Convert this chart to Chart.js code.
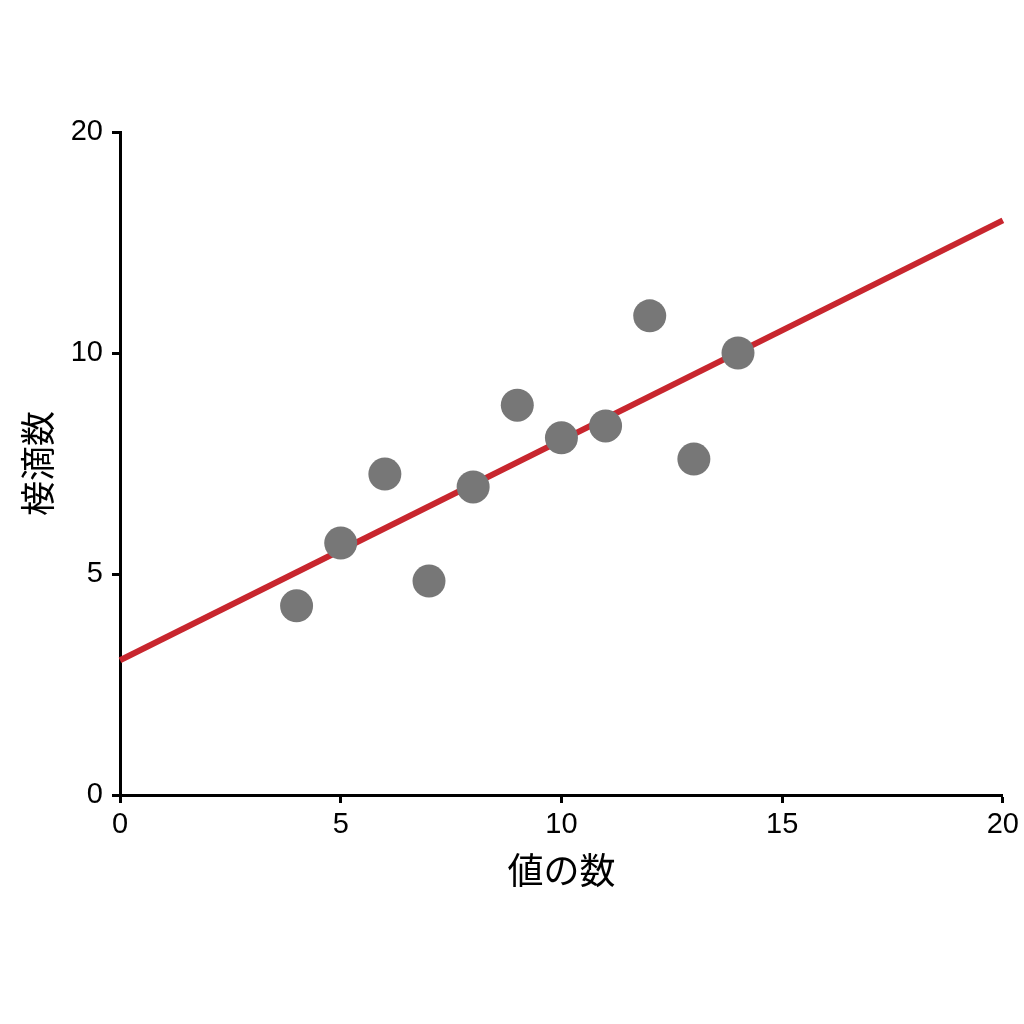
<!DOCTYPE html>
<html>
<head>
<meta charset="utf-8">
<script src="https://cdn.jsdelivr.net/npm/chart.js@4/dist/chart.umd.min.js"></script>
<style>
  html, body { margin: 0; padding: 0; background: #fff; }
  #wrap { width: 1024px; height: 1024px; }
</style>
</head>
<body>
<div id="wrap"><canvas id="scatterChart" width="1024" height="1024"></canvas></div>
<script>
// data
const xValues = [4, 5, 6, 7, 8, 9, 10, 11, 12, 13, 14];
const yValues = [4.28, 5.7, 7.26, 4.84, 6.97, 8.82, 8.08, 8.35, 10.84, 7.6, 10.0];
const fitX = [0, 20];
const fitY = [3.05, 13.0];
const xTicks = [0, 5, 10, 15, 20];
const yTickLabels = ['0', '5', '10', '20'];   // top tick is printed as 20 in the original

const points = xValues.map((x, i) => ({ x: x, y: yValues[i] }));
const fitLine = fitX.map((x, i) => ({ x: x, y: fitY[i] }));

const numFont = "'Liberation Sans', Arial, sans-serif";
const cjkFont = "'Noto Sans CJK JP', 'Noto Sans', sans-serif";

const ctx = document.getElementById('scatterChart').getContext('2d');
const chart = new Chart(ctx, {
    type: 'scatter',
    data: {
        datasets: [
            {
                label: 'fit',
                type: 'line',
                data: fitLine,
                borderColor: '#c8262e',
                borderWidth: 6,
                pointRadius: 0,
                fill: false,
                clip: false,
                order: 2
            },
            {
                label: 'points',
                data: points,
                backgroundColor: '#777777',
                borderWidth: 0,
                pointRadius: 16.5,
                pointHoverRadius: 16.5,
                order: 1
            }
        ]
    },
    options: {
        responsive: false,
        animation: false,
        layout: {
            padding: { top: 132, right: 21, bottom: 128, left: 0 }
        },
        plugins: {
            legend: { display: false },
            tooltip: { enabled: false }
        },
        scales: {
            x: {
                type: 'linear',
                min: 0,
                max: 20,
                afterFit: (scale) => { scale.height = 101; },
                afterBuildTicks: (scale) => {
                    scale.ticks = xTicks.map(v => ({ value: v }));
                },
                grid: {
                    drawOnChartArea: false,
                    drawTicks: true,
                    tickLength: 8,
                    tickWidth: 3,
                    tickColor: '#000'
                },
                border: { display: true, color: '#000', width: 3 },
                ticks: {
                    color: '#000',
                    padding: 5,
                    maxRotation: 0,
                    font: { family: numFont, size: 29 }
                },
                title: {
                    display: true,
                    text: '値の数',
                    color: '#000',
                    padding: { top: 0, bottom: 4 },
                    font: { family: cjkFont, size: 36 }
                }
            },
            y: {
                type: 'linear',
                min: 0,
                max: 15,
                afterFit: (scale) => { scale.width = 120; },
                afterBuildTicks: (scale) => {
                    scale.ticks = yTickLabels.map((t, i) => ({ value: i * 5 }));
                },
                grid: {
                    drawOnChartArea: false,
                    drawTicks: true,
                    tickLength: 8,
                    tickWidth: 3,
                    tickColor: '#000'
                },
                border: { display: true, color: '#000', width: 3 },
                ticks: {
                    color: '#000',
                    padding: 9,
                    font: { family: numFont, size: 29 },
                    callback: (value, index) => yTickLabels[index]
                },
                title: {
                    display: true,
                    text: '椄滴数',
                    color: '#000',
                    padding: { top: 17, bottom: 0 },
                    font: { family: cjkFont, size: 35 }
                }
            }
        }
    }
});
</script>
</body>
</html>
